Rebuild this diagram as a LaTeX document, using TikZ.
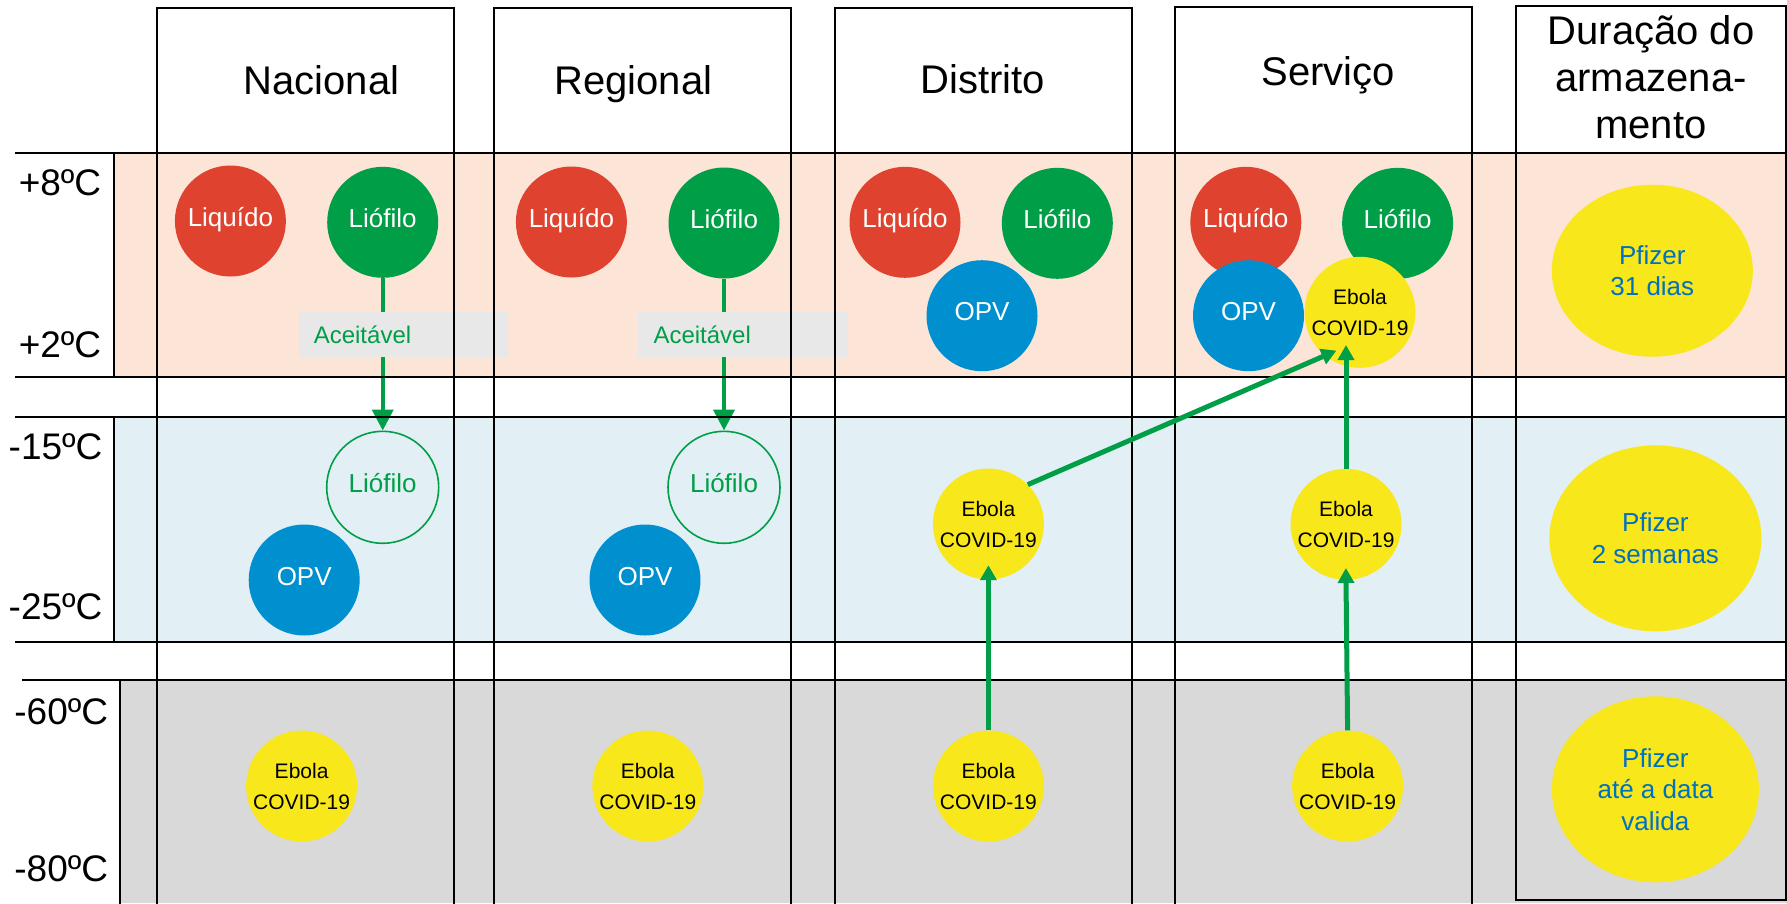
\documentclass[tikz,border=0pt]{standalone}
\usepackage{fontspec}
\setmainfont{Liberation Sans}
\usetikzlibrary{shapes.geometric,arrows.meta,calc}
\definecolor{bandpink}{HTML}{FCE4D6}
\definecolor{bandblue}{HTML}{E2F0F6}
\definecolor{bandgray}{HTML}{D9D9D9}
\definecolor{cred}{HTML}{DF4330}
\definecolor{cgreen}{HTML}{009E47}
\definecolor{cblue}{HTML}{0090D0}
\definecolor{cyellow}{HTML}{F8E71B}
\definecolor{cpf}{HTML}{0070C0}
\definecolor{caccbox}{HTML}{E8E8E8}
\begin{document}
\begin{tikzpicture}[x=1pt,y=-1pt,
  gridline/.style={line width=2pt, draw=black},
  circ/.style={circle, minimum size=111pt, inner sep=0pt, text height=19pt, text depth=9pt, font=\fontsize{26}{30}\selectfont, text=white},
  liq/.style={circ, fill=cred},
  lio/.style={circ, fill=cgreen},
  opv/.style={circ, fill=cblue},
  lioo/.style={circ, minimum size=112pt, draw=cgreen, line width=1.6pt, text=cgreen},
  ebo/.style={circle, minimum size=111pt, inner sep=0pt, fill=cyellow, align=center, font=\fontsize{21}{31}\selectfont, text=black},
  pf/.style={ellipse, inner sep=0pt, fill=cyellow, align=center, text=cpf, font=\fontsize{26}{31.5}\selectfont},
  hdr/.style={font=\fontsize{40}{46.7}\selectfont, align=center},
  tmp/.style={font=\fontsize{37}{40}\selectfont, anchor=east, inner sep=0pt},
  acc/.style={fill=caccbox, text=cgreen, anchor=north west, minimum height=45.3pt, text width=178.8pt, inner xsep=15.3pt, inner ysep=0pt, align=left, font=\fontsize{24}{28}\selectfont},
  arrA/.style={draw=cgreen, line width=4pt, -{Triangle[length=21pt,width=21pt]}},
  arrB/.style={draw=cgreen, line width=5pt, -{Triangle[length=15pt,width=16pt]}}
]
\useasboundingbox (0,0) rectangle (1787,903);
% bands
\fill[bandpink] (113.7,153.3) rectangle (1787,377.3);
\fill[bandblue] (113.7,416.7) rectangle (1787,641.7);
\fill[bandgray] (119.8,680) rectangle (1787,903);

% headers
\node[hdr, anchor=base] (hN) at (321.5,94.3) {Nacional};
\node[hdr, anchor=base] (hR) at (633.4,94.3) {Regional};
\node[hdr, anchor=base] (hD) at (983,93.3) {Distrito};
\node[hdr, anchor=base] (hS) at (1328,85) {Serviço};
\node[hdr] (hT) at (1651,77.2) {Duração do\\armazena-\\mento};

% temperature labels
\node[tmp] (t8) at (101.4,182.7) {+8ºC};
\node[tmp] (t2) at (101.4,345) {+2ºC};
\node[tmp] (t15) at (102.6,446.7) {-15ºC};
\node[tmp] (t25) at (102.6,606.7) {-25ºC};
\node[tmp] (t60) at (108.3,711.7) {-60ºC};
\node[tmp] (t80) at (108.3,868.3) {-80ºC};

% +2..+8 band
\node[liq] (liqN) at (230.4,221) {Liquído};
\node[lio] (lioN) at (382.7,222.3) {Liófilo};
\node[liq] (liqR) at (571.4,222) {Liquído};
\node[lio] (lioR) at (724,223) {Liófilo};
\node[liq] (liqD) at (905,222.3) {Liquído};
\node[lio] (lioD) at (1057.3,223.3) {Liófilo};
\node[opv] (opvD) at (982,315.7) {OPV};
\node[liq] (liqS) at (1245.8,222.3) {Liquído};
\node[lio] (lioS) at (1397.6,223.3) {Liófilo};
\node[opv] (opvS) at (1248.5,315.7) {OPV};
\node[ebo] (ebSa) at (1360,312.3) {Ebola\\COVID-19};
\node[pf, minimum width=201pt, minimum height=172pt] (pf1) at (1652.3,270.7) {Pfizer\\31 dias};

% -15..-25 band
\node[lioo] (lioNo) at (382.7,487.3) {Liófilo};
\node[opv] (opvN) at (304.2,580) {OPV};
\node[lioo] (lioRo) at (724,487.3) {Liófilo};
\node[opv] (opvR) at (645,580) {OPV};
\node[ebo] (ebDb) at (988.4,524) {Ebola\\COVID-19};
\node[ebo] (ebSb) at (1346,524.3) {Ebola\\COVID-19};
\node[pf, minimum width=212pt, minimum height=186pt] (pf2) at (1655.4,538.3) {Pfizer\\2 semanas};

% -60..-80 band
\node[ebo] (ebNc) at (301.6,786) {Ebola\\COVID-19};
\node[ebo] (ebRc) at (647.8,786) {Ebola\\COVID-19};
\node[ebo] (ebDc) at (988.4,786) {Ebola\\COVID-19};
\node[ebo] (ebSc) at (1347.6,786) {Ebola\\COVID-19};
\node[pf, minimum width=207pt, minimum height=186pt] (pf3) at (1655.4,789.3) {Pfizer\\até a data\\valida};

% acceptable arrows
\draw[arrA] (lioN) -- (lioNo);
\draw[arrA] (lioR) -- (lioRo);
\node[acc] (accN) at (298.3,311.7) {Aceitável};
\node[acc] (accR) at (638,311.7) {Aceitável};

% grid
\draw[gridline] (15.3,153.3) -- (1787,153.3);
\draw[gridline] (15.3,377.3) -- (1787,377.3);
\draw[gridline] (15.3,416.7) -- (1787,416.7);
\draw[gridline] (15.3,641.7) -- (1787,641.7);
\draw[gridline] (21.8,680) -- (1787,680);
\draw[gridline] (113.7,153.3) -- (113.7,377.3);
\draw[gridline] (113.7,416.7) -- (113.7,641.7);
\draw[gridline] (119.8,680) -- (119.8,910);
\draw[gridline] (157.3,910) -- (157.3,7.5) -- (454.3,7.5) -- (454.3,910);
\draw[gridline] (494.3,910) -- (494.3,7.5) -- (791.3,7.5) -- (791.3,910);
\draw[gridline] (834.6,910) -- (834.6,8.3) -- (1131.5,8.3) -- (1131.5,910);
\draw[gridline] (1175.2,910) -- (1175.2,7.3) -- (1472.3,7.3) -- (1472.3,910);
\draw[gridline] (1515.7,5.7) rectangle (1786,900);

% transfer arrows
\draw[arrB, shorten >=-14.5pt] (ebDc.north) -- (ebDb.south);
\draw[arrB, shorten >=-12pt] (ebSc.north) -- (ebSb.south);
\draw[arrB, shorten >=32.7pt] (ebSb.north) -- (ebSb.north |- ebSa.center);
\draw[arrB, shorten >=-12.5pt] (ebDb.45) -- (ebSa.231);
\end{tikzpicture}
\end{document}
